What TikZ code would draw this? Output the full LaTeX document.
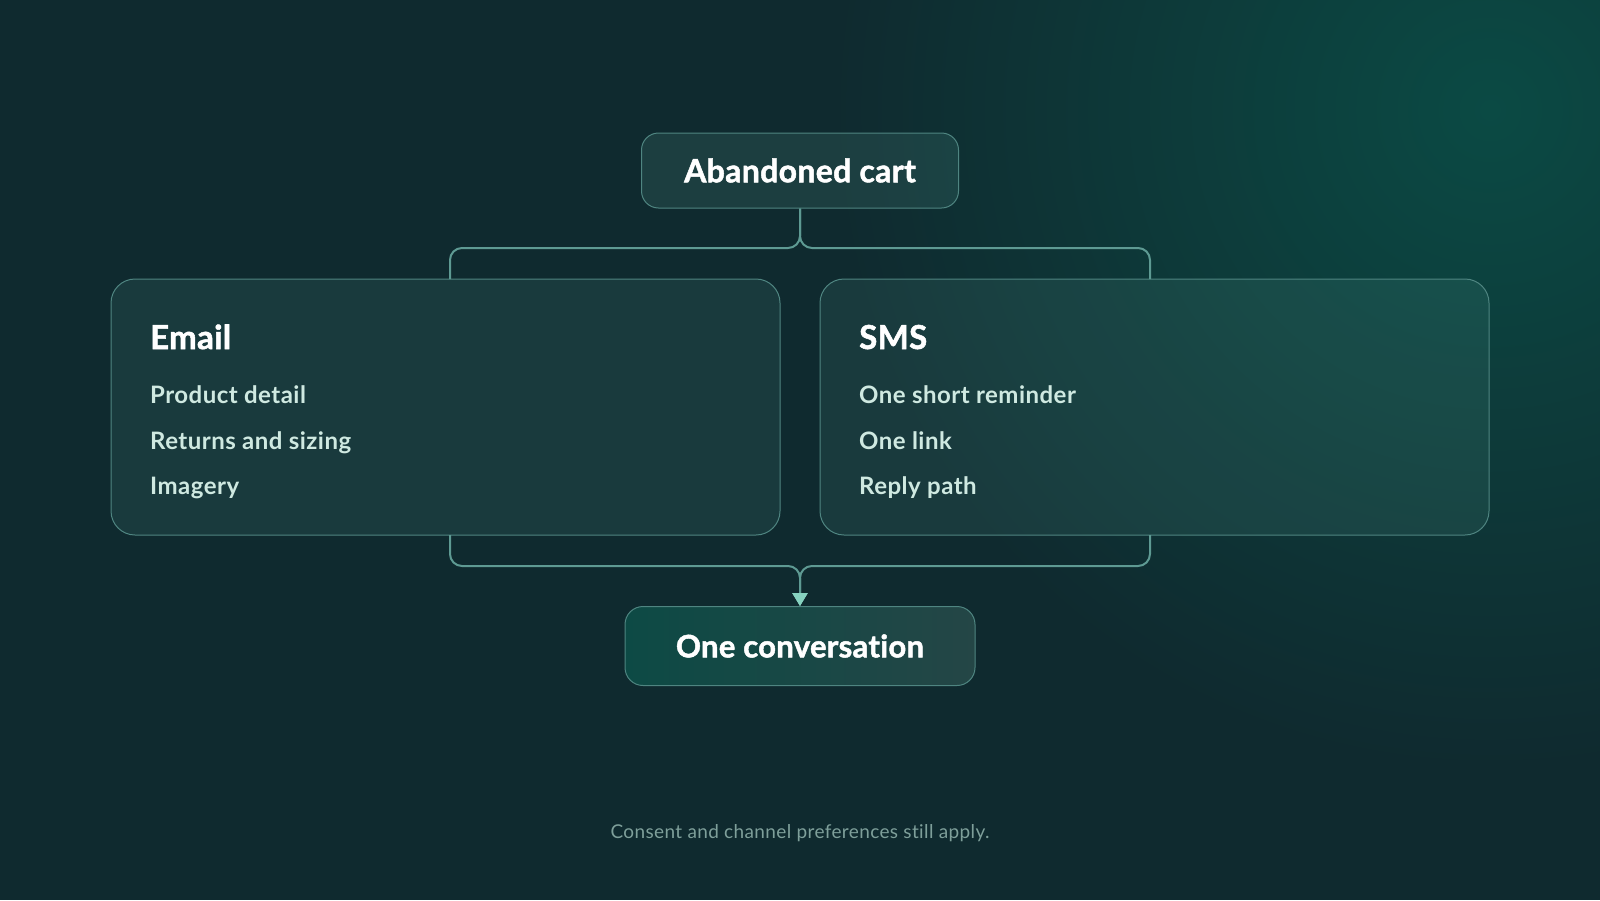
\documentclass[tikz,border=0pt]{standalone}
\usepackage{fontspec}
\setmainfont{Lato}[Ligatures=NoCommon,LetterSpace=2]
\newfontfamily\heavyfont{Lato}[Ligatures=NoCommon,LetterSpace=1,FakeBold=1.6]
\usetikzlibrary{arrows.meta,positioning,calc}
\definecolor{bgdark}{HTML}{0F2A2F}
\definecolor{bgglow}{HTML}{0B4A44}
\definecolor{boxtint}{HTML}{7AD0C0}
\definecolor{edge}{HTML}{4F8581}
\definecolor{wire}{HTML}{5E9A93}
\definecolor{tip}{HTML}{86D2C0}
\definecolor{itemtext}{HTML}{CFE9E1}
\definecolor{notetext}{HTML}{7E9F9A}
\definecolor{convleft}{HTML}{0D4A45}
\definecolor{convright}{HTML}{244646}
\tikzstyle{trigger} = [draw=edge,line width=1pt,fill=boxtint,fill opacity=0.12,text opacity=1,rounded corners=17pt,minimum width=317pt,minimum height=75pt,text=white,font=\fontsize{32}{38}\heavyfont\bfseries]
\tikzstyle{channel} = [draw=edge,line width=1pt,fill=boxtint,fill opacity=0.1,rounded corners=24pt,minimum width=669pt,minimum height=256pt]
\tikzstyle{outcome} = [draw=edge,line width=1pt,left color=convleft,right color=convright,rounded corners=18pt,minimum width=350pt,minimum height=79pt,text=white,font=\fontsize{31}{38}\heavyfont\bfseries]
\tikzstyle{heading} = [anchor=base west,inner sep=0pt,text=white,font=\fontsize{33}{40}\heavyfont\bfseries]
\tikzstyle{item} = [anchor=base west,inner sep=0pt,text=itemtext,font=\fontsize{24}{28}\selectfont\bfseries]
\tikzstyle{link} = [draw=wire,line width=2pt,rounded corners=12pt]
\tikzstyle{merge} = [link,-{Triangle[width=15pt,length=13pt,color=tip]}]

\begin{document}
\begin{tikzpicture}[x=1pt,y=-1pt]
      \useasboundingbox (0,0) rectangle (1600,900);
      \fill[bgdark] (0,0) rectangle (1600,900);
      \begin{scope}
            \clip (0,0) rectangle (1600,900);
            \shade[inner color=bgglow,outer color=bgdark] (1490,110) circle (660);
      \end{scope}

      \node (cart)[trigger] at (800,170.5) {Abandoned cart};
      \node (email)[channel] at (445.5,407) {};
      \node (sms)[channel]   at (1154.5,407) {};
      \node (conv)[outcome]  at (800,646) {One conversation};

      \node (emailhead)[heading] at (150,349) {Email};
      \node (email1)[item] at (150,403) {Product detail};
      \node (email2)[item] at (150,449) {Returns and sizing};
      \node (email3)[item] at (150,494) {Imagery};

      \node (smshead)[heading] at (859,349) {SMS};
      \node (sms1)[item] at (859,403) {One short reminder};
      \node (sms2)[item] at (859,449) {One link};
      \node (sms3)[item] at (859,494) {Reply path};

      \coordinate (emailin)  at (450,279);
      \coordinate (smsin)    at (1150,279);
      \coordinate (emailout) at (450,535);
      \coordinate (smsout)   at (1150,535);

      \draw[link] (cart.south) -- (800,248) -- (450,248) -- (emailin);
      \draw[link] (cart.south) -- (800,248) -- (1150,248) -- (smsin);
      \draw[merge] (emailout) -- (450,566) -- (800,566) -- (conv.north);
      \draw[merge] (smsout) -- (1150,566) -- (800,566) -- (conv.north);

      \node (note)[font=\fontsize{19}{22}\selectfont,text=notetext] at (800,833) {Consent and channel preferences still apply.};
\end{tikzpicture}
\end{document}
